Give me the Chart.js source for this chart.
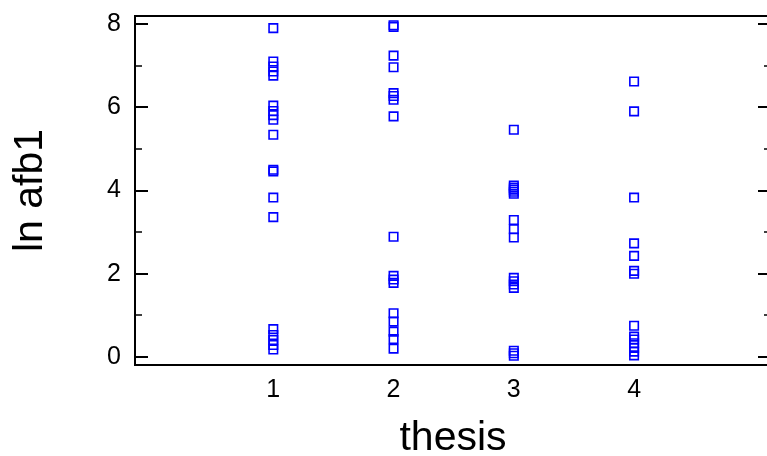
<!DOCTYPE html>
<html>
<head>
<meta charset="utf-8">
<script src="https://cdn.jsdelivr.net/npm/chart.js@4.4.1/dist/chart.umd.min.js"></script>
<style>
  html, body { margin: 0; padding: 0; background: #fff; overflow: hidden; }
  #wrap { width: 767px; height: 456px; }
</style>
</head>
<body>
<div id="wrap"><canvas id="c" width="767" height="456"></canvas></div>
<script>
// ln(afb1) observations for each thesis
const thesisLevels = [1, 2, 3, 4];
const lnAfb1Thesis1 = [7.90, 7.10, 6.98, 6.86, 6.76, 6.04, 5.91, 5.81, 5.70, 5.34, 4.50, 4.46, 3.83, 3.36, 0.67, 0.53, 0.41, 0.29, 0.18];
const lnAfb1Thesis2 = [7.97, 7.93, 7.24, 6.96, 6.34, 6.27, 6.18, 5.78, 2.89, 1.95, 1.86, 1.78, 1.05, 0.85, 0.61, 0.43, 0.20];
const lnAfb1Thesis3 = [5.46, 4.12, 4.07, 4.02, 3.97, 3.92, 3.29, 3.07, 2.87, 1.90, 1.82, 1.74, 1.66, 0.15, 0.09, 0.03];
const lnAfb1Thesis4 = [6.62, 5.90, 3.83, 2.73, 2.43, 2.07, 2.00, 0.75, 0.49, 0.42, 0.33, 0.22, 0.13, 0.04];
const yTickLabels = [0, 2, 4, 6, 8];
const xTitle = 'thesis';
const yTitle = 'ln afb1';

const groups = [lnAfb1Thesis1, lnAfb1Thesis2, lnAfb1Thesis3, lnAfb1Thesis4];
const points = [];
groups.forEach((vals, i) => vals.forEach(v => points.push({ x: thesisLevels[i], y: v })));

const FONT = 'Liberation Sans, Arial, sans-serif';

// Frame: left spine, top/bottom lines running to the canvas edge,
// inward ticks on the left spine and on a right spine just past the edge,
// plus the x-axis title centred under the framed area
const framePlugin = {
  id: 'frame',
  afterDraw(chart) {
    const { ctx, chartArea: a, scales } = chart;
    const ys = scales.y;
    const edge = chart.width;
    const rightSpine = edge + 4;
    ctx.save();
    ctx.strokeStyle = '#000';
    ctx.lineWidth = 2;
    ctx.beginPath();
    ctx.moveTo(a.left, a.top); ctx.lineTo(a.left, a.bottom);
    ctx.moveTo(a.left - 1, a.top); ctx.lineTo(edge, a.top);
    ctx.moveTo(a.left - 1, a.bottom); ctx.lineTo(edge, a.bottom);
    ctx.stroke();
    ys.ticks.forEach(t => {
      const py = Math.round(ys.getPixelForValue(t.value));
      const major = yTickLabels.includes(t.value);
      const len = major ? 13 : 7;
      ctx.lineWidth = major ? 2 : 1.5;
      ctx.beginPath();
      ctx.moveTo(a.left, py); ctx.lineTo(a.left + len, py);
      ctx.moveTo(rightSpine, py); ctx.lineTo(rightSpine - len, py);
      ctx.stroke();
    });
    ctx.fillStyle = '#000';
    ctx.font = '41px ' + FONT;
    ctx.textAlign = 'center';
    ctx.textBaseline = 'middle';
    ctx.fillText(xTitle, (a.left + rightSpine) / 2, a.bottom + 74);
    ctx.restore();
  }
};

new Chart(document.getElementById('c'), {
  type: 'scatter',
  data: {
    datasets: [{
      data: points,
      pointStyle: 'rect',
      pointRadius: 6,
      pointHoverRadius: 6,
      borderColor: '#0000ff',
      backgroundColor: 'rgba(0,0,0,0)',
      borderWidth: 1.6
    }]
  },
  options: {
    responsive: false,
    animation: false,
    events: [],
    layout: { padding: { top: 16, right: 0, bottom: 0, left: 0 } },
    plugins: { legend: { display: false }, tooltip: { enabled: false } },
    scales: {
      x: {
        type: 'linear',
        min: -0.15,
        max: 5.042,
        afterBuildTicks: s => { s.ticks = thesisLevels.map(v => ({ value: v })); },
        afterFit: s => { s.height = 91; s.paddingLeft = 0; s.paddingRight = 0; },
        grid: { display: false, drawTicks: false },
        border: { display: false },
        ticks: {
          padding: 10,
          color: '#000',
          font: { family: FONT, size: 25 },
          callback: v => String(v)
        },
        title: { display: false }
      },
      y: {
        min: -0.192,
        max: 8.192,
        afterBuildTicks: s => {
          const t = [];
          for (let v = 0; v <= 8; v += 0.5) t.push({ value: v });
          s.ticks = t;
        },
        afterFit: s => { s.width = 135; s.paddingTop = 0; s.paddingBottom = 0; },
        grid: { display: false, drawTicks: false },
        border: { display: false },
        ticks: {
          padding: 14,
          color: '#000',
          font: { family: FONT, size: 25 },
          callback: v => (yTickLabels.includes(v) ? String(v) : '')
        },
        title: {
          display: true,
          text: yTitle,
          color: '#000',
          font: { family: FONT, size: 41 },
          padding: { top: 6, bottom: 0 }
        }
      }
    }
  },
  plugins: [framePlugin]
});
</script>
</body>
</html>
